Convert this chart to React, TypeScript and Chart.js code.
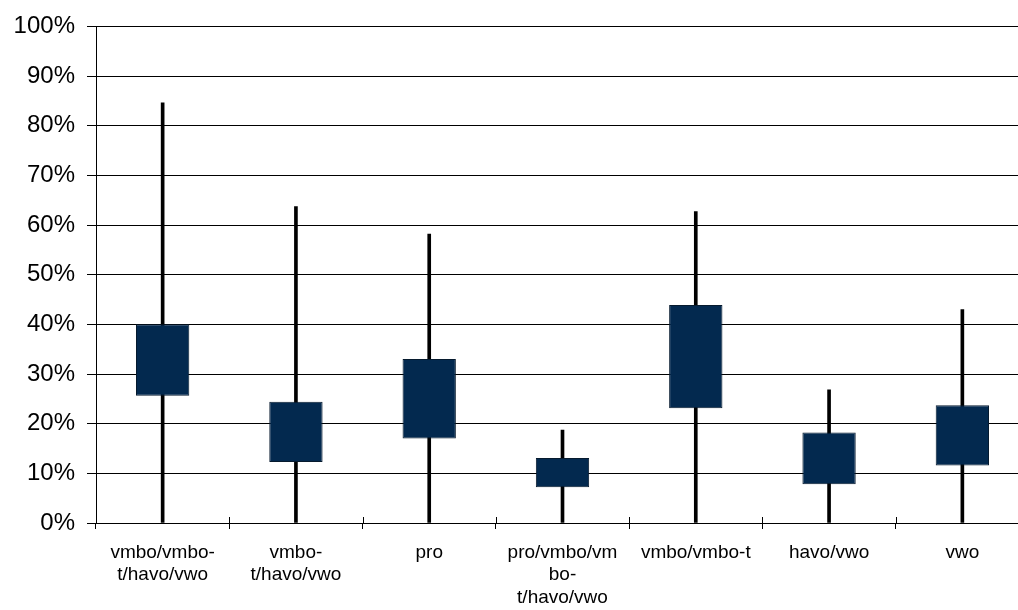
import React, { useEffect, useRef } from "react";
import { Chart, registerables } from "chart.js";

Chart.register(...registerables);

const categories: (string | string[])[] = [
  ["vmbo/vmbo-", "t/havo/vwo"],
  ["vmbo-", "t/havo/vwo"],
  "pro",
  ["pro/vmbo/vm", "bo-", "t/havo/vwo"],
  "vmbo/vmbo-t",
  "havo/vwo",
  "vwo",
];
const boxLow = [25.6, 12.3, 17.0, 7.2, 23.1, 7.8, 11.6];
const boxHigh = [40.0, 24.4, 33.0, 13.1, 43.9, 18.2, 23.7];
const whiskerMin = [0, 0, 0, 0, 0, 0, 0];
const whiskerMax = [84.6, 63.7, 58.2, 18.7, 62.7, 26.8, 43.0];
const yTicks = [0, 10, 20, 30, 40, 50, 60, 70, 80, 90, 100];

const upTicks = {
  id: "upTicks",
  afterDatasetsDraw(chart: any) {
    const x = chart.scales.x;
    const ctx = chart.ctx;
    const n = categories.length;
    ctx.save();
    ctx.strokeStyle = "#000";
    ctx.lineWidth = 1;
    for (let i = 1; i < n; i++) {
      const px = Math.round((x.getPixelForValue(i - 1) + x.getPixelForValue(i)) / 2) + 0.5;
      ctx.beginPath();
      ctx.moveTo(px, x.top - 6);
      ctx.lineTo(px, x.top);
      ctx.stroke();
    }
    ctx.restore();
  },
};

export default function App() {
  const ref = useRef<HTMLCanvasElement>(null);
  useEffect(() => {
    if (!ref.current) return;
    const chart = new Chart(ref.current, {
      type: "bar",
      data: {
        labels: categories,
        datasets: [
          {
            label: "box",
            data: boxLow.map((v, i) => [v, boxHigh[i]]),
            backgroundColor: "#03294f",
            borderColor: "#061a2e",
            borderWidth: 1,
            borderSkipped: false,
            grouped: false,
            categoryPercentage: 1,
            barPercentage: 0.4,
            order: 1,
          } as any,
          {
            label: "range",
            data: whiskerMin.map((v, i) => [v, whiskerMax[i]]),
            backgroundColor: "#000000",
            borderWidth: 0,
            grouped: false,
            barThickness: 3,
            order: 2,
          } as any,
        ],
      },
      options: {
        responsive: false,
        animation: false,
        layout: { padding: { top: 25, right: 1, left: 0, bottom: 0 } },
        plugins: { legend: { display: false }, tooltip: { enabled: false } },
        scales: {
          x: {
            offset: true,
            grid: {
              offset: true,
              drawOnChartArea: false,
              drawTicks: true,
              tickLength: 6,
              color: "#000",
            },
            border: { color: "#000", width: 1 },
            ticks: {
              color: "#000",
              font: { family: "'Liberation Sans', Arial, sans-serif", size: 19, lineHeight: 1.2 },
              padding: 12,
              maxRotation: 0,
              autoSkip: false,
            },
            afterFit: (s: any) => {
              s.height = 87;
            },
          },
          y: {
            min: 0,
            max: 100,
            afterBuildTicks: (s: any) => {
              s.ticks = yTicks.map((v) => ({ value: v }));
            },
            grid: { color: "#000", lineWidth: 1, tickLength: 9 },
            border: { color: "#000", width: 1 },
            ticks: {
              color: "#000",
              font: { family: "'Liberation Sans', Arial, sans-serif", size: 24 },
              padding: 12,
              callback: (v: any) => v + "%",
            },
            afterFit: (s: any) => {
              s.width = 96;
            },
          },
        },
      },
      plugins: [upTicks],
    });
    return () => chart.destroy();
  }, []);
  return (
    <div style={{ position: "absolute", left: 0, top: 0, width: 1018, height: 610, overflow: "hidden", background: "#fff" }}>
      <canvas ref={ref} width={1030} height={610} style={{ display: "block" }} />
    </div>
  );
}
